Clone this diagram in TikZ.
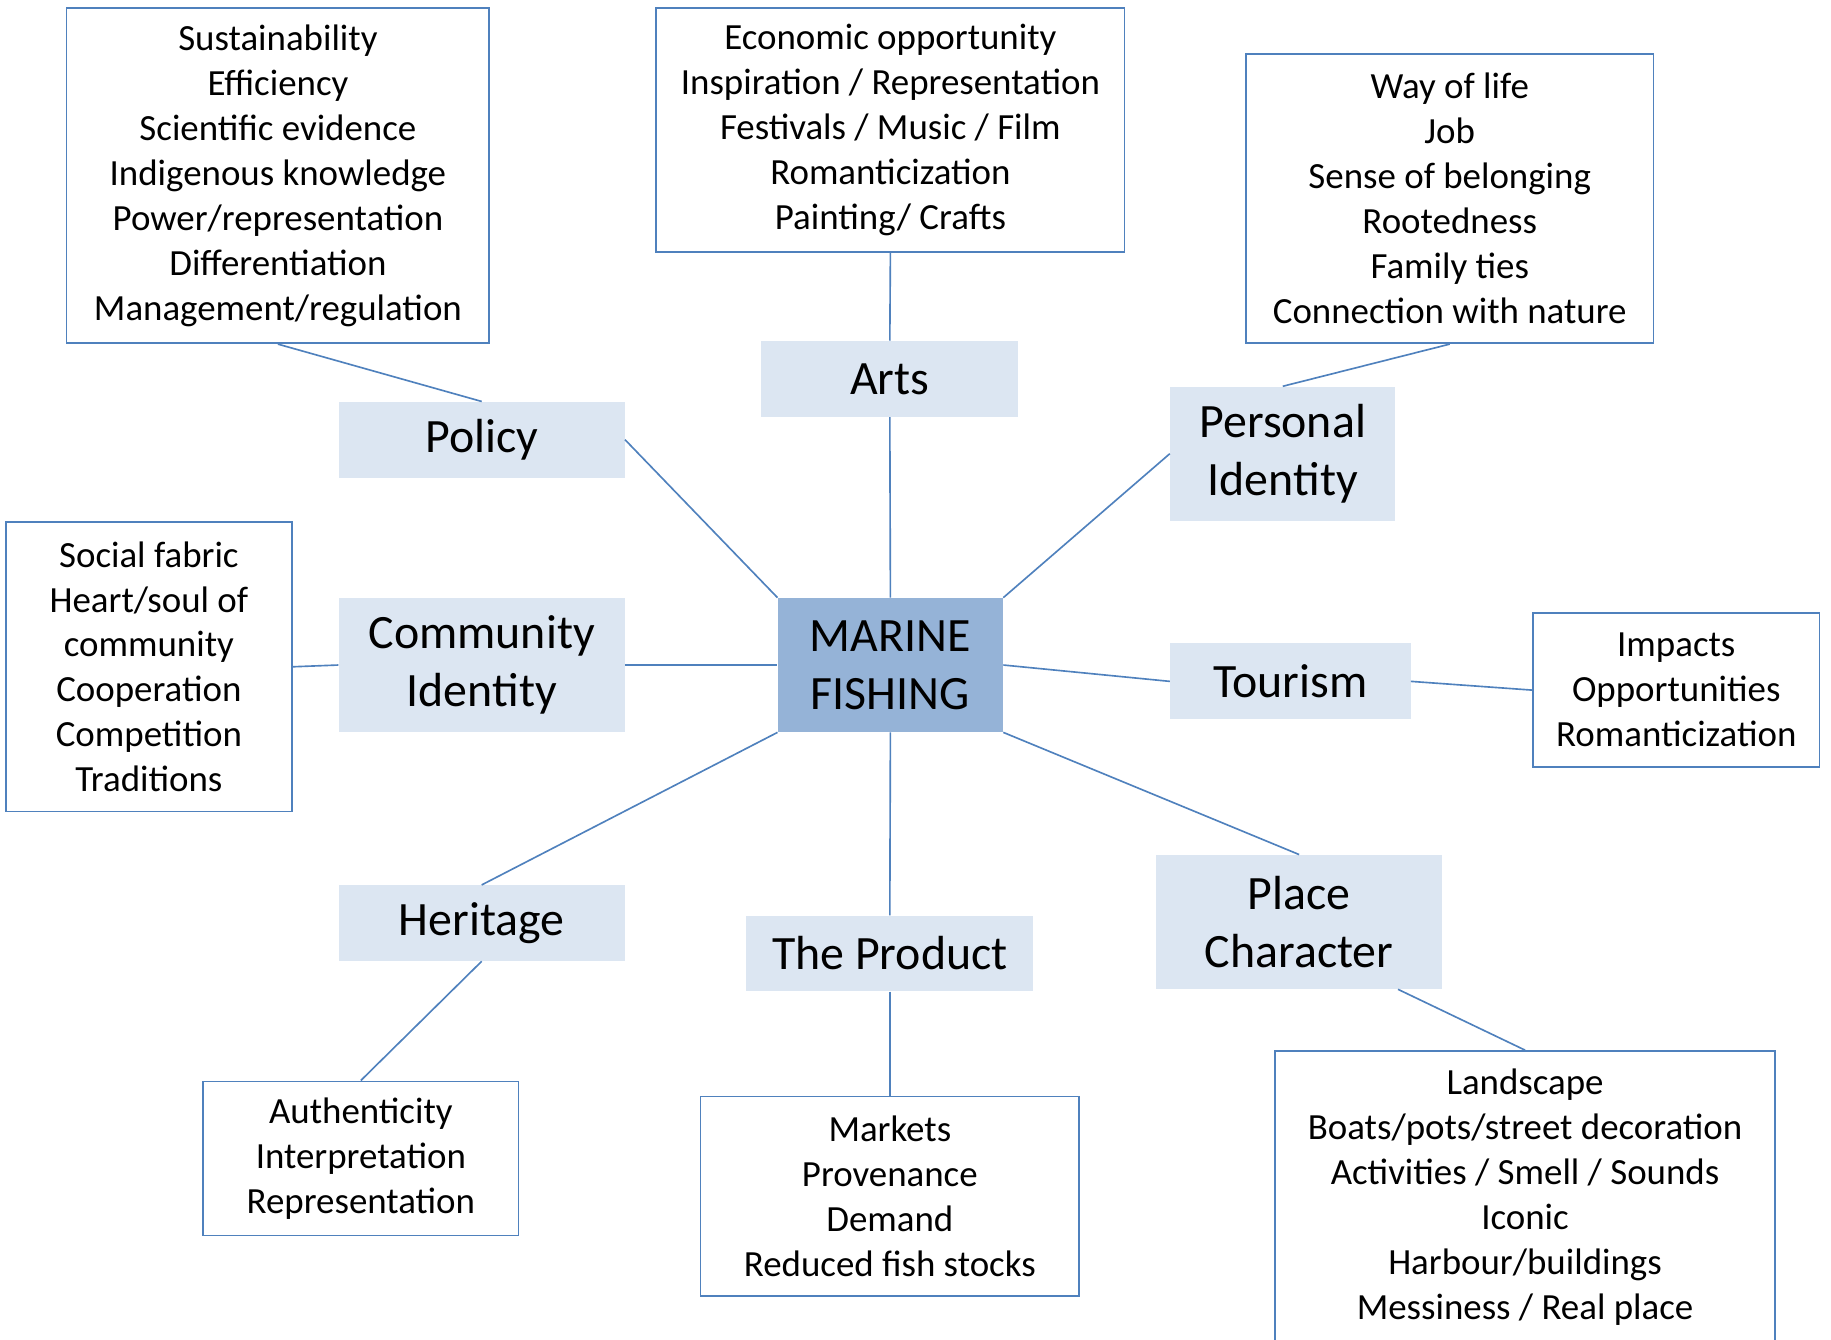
\documentclass[tikz,border=0pt]{standalone}
\usepackage{fontspec}
\setmainfont{Carlito}
\usetikzlibrary{calc}
\definecolor{linkblue}{HTML}{4F81BD}
\definecolor{lightbox}{HTML}{DCE6F2}
\definecolor{corebox}{HTML}{95B3D7}
\begin{document}
\begin{tikzpicture}[x=1pt,y=-1pt,
  listbox/.style={draw=linkblue,line width=1.4pt,fill=white,inner sep=0pt,align=center,
    font=\fontsize{31.6pt}{38.5pt}\selectfont},
  topicbox/.style={fill=lightbox,inner sep=0pt,align=center,
    font=\fontsize{41pt}{50pt}\selectfont},
  corenode/.style={fill=corebox,inner sep=0pt,align=center,
    font=\fontsize{41pt}{50pt}\selectfont},
  link/.style={draw=linkblue,line width=1.4pt}]
\clip (0,0) rectangle (1568,1147.5);
\fill[white] (0,0) rectangle (1568,1147.5);

% lists
\node[listbox,minimum width=362pt,minimum height=287pt] (pollist) at (238,150.5)
  {Sustainability\\Efficiency\\Scientific evidence\\Indigenous knowledge\\Power/representation\\Differentiation\\Management/regulation};
\node[listbox,minimum width=401pt,minimum height=209pt] (artslist) at (762.5,111.5)
  {Economic opportunity\\Inspiration / Representation\\Festivals / Music / Film\\Romanticization\\Painting/ Crafts};
\node[listbox,minimum width=349pt,minimum height=248pt] (perslist) at (1241.5,170)
  {Way of life\\Job\\Sense of belonging\\Rootedness\\Family ties\\Connection with nature};
\node[listbox,minimum width=245pt,minimum height=248pt] (commlist) at (127.5,571)
  {Social fabric\\Heart/soul of\\community\\Cooperation\\Competition\\Traditions};
\node[listbox,minimum width=245pt,minimum height=132pt] (tourlist) at (1435.5,591)
  {Impacts\\Opportunities\\Romanticization};
\node[listbox,minimum width=270pt,minimum height=132pt] (herlist) at (309,992)
  {Authenticity\\Interpretation\\Representation};
\node[listbox,minimum width=324pt,minimum height=171pt] (prodlist) at (762,1024.5)
  {Markets\\Provenance\\Demand\\Reduced fish stocks};
\node[listbox,minimum width=428pt,minimum height=250pt] (placelist) at (1306,1025)
  {Landscape\\Boats/pots/street decoration\\Activities / Smell / Sounds\\Iconic\\Harbour/buildings\\Messiness / Real place};

% topics
\node[topicbox,minimum width=220pt,minimum height=65pt] (arts) at (762,324.5) {Arts};
\node[topicbox,minimum width=245pt,minimum height=65pt] (policy) at (412.5,376.5) {Policy};
\node[topicbox,minimum width=193pt,minimum height=115pt] (personal) at (1098.5,388.5) {Personal\\Identity};
\node[topicbox,minimum width=245pt,minimum height=115pt] (community) at (412.5,569.5) {Community\\Identity};
\node[corenode,minimum width=193pt,minimum height=115pt] (marine) at (762.5,569.5) {MARINE\\FISHING};
\node[topicbox,minimum width=206pt,minimum height=65pt] (tourism) at (1105,583.5) {Tourism};
\node[topicbox,minimum width=245pt,minimum height=65pt] (heritage) at (412.5,790.5) {Heritage};
\node[topicbox,minimum width=246pt,minimum height=65pt] (product) at (762,816.5) {The Product};
\node[topicbox,minimum width=245pt,minimum height=115pt] (place) at (1112.5,789.5) {Place\\Character};

\coordinate (placeout) at ($(place.south west)!0.845!(place.south east)$);

% connectors
\draw[link] (pollist.south) -- (policy.north);
\draw[link] (policy.east) -- (marine.north west);
\draw[link] (artslist.south) -- (arts.north);
\draw[link] (arts.south) -- (marine.north);
\draw[link] (perslist.south) -- (personal.north);
\draw[link] (personal.west) -- (marine.north east);
\draw[link] (commlist.east) -- (community.west);
\draw[link] (community.east) -- (marine.west);
\draw[link] (marine.east) -- (tourism.west);
\draw[link] (tourism.east) -- (tourlist.west);
\draw[link] (marine.south east) -- (place.north);
\draw[link] (marine.south) -- (product.north);
\draw[link] (marine.south west) -- (heritage.north);
\draw[link] (heritage.south) -- (herlist.north);
\draw[link] (product.south) -- (prodlist.north);
\draw[link] (placeout) -- (placelist.north);
\end{tikzpicture}
\end{document}
